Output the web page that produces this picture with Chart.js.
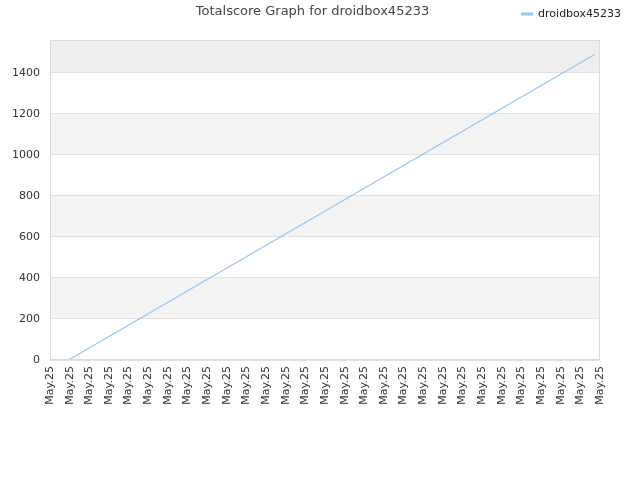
<!DOCTYPE html>
<html>
<head>
<meta charset="utf-8">
<title>Totalscore Graph for droidbox45233</title>
<script src="https://cdn.jsdelivr.net/npm/chart.js@4.4.1/dist/chart.umd.min.js"></script>
<style>
  html, body { margin: 0; padding: 0; background: #fff; }
  #score { display: block; }
</style>
</head>
<body>
<canvas id="score" width="640" height="480"></canvas>
<script>
// x positions are measured in tick steps from the first "May.25" label
const tickLabels = [
  'May.25', 'May.25', 'May.25', 'May.25', 'May.25', 'May.25', 'May.25', 'May.25',
  'May.25', 'May.25', 'May.25', 'May.25', 'May.25', 'May.25', 'May.25', 'May.25',
  'May.25', 'May.25', 'May.25', 'May.25', 'May.25', 'May.25', 'May.25', 'May.25',
  'May.25', 'May.25', 'May.25', 'May.25', 'May.25'
];
const yTicks = [0, 200, 400, 600, 800, 1000, 1200, 1400];
const pointX = [0.94, 27.75];
const totalScore = [0, 1491];

const lineColor = '#97c6f3';
const gridColor = '#e2e2e2';

Chart.defaults.font.family = "'DejaVu Sans', sans-serif";

// alternating horizontal bands + the frame round the plot
const plotBands = {
  id: 'plotBands',
  beforeDraw(chart) {
    const { ctx, chartArea: area, scales } = chart;
    const ticks = scales.y.ticks;
    ctx.save();
    for (let i = 0; i < ticks.length; i++) {
      const bottom = scales.y.getPixelForValue(ticks[i].value);
      const top = i + 1 < ticks.length ? scales.y.getPixelForValue(ticks[i + 1].value) : area.top;
      let fill = i % 2 === 0 ? '#ffffff' : '#f4f4f4';
      if (i === ticks.length - 1) fill = '#eeeeee';
      ctx.fillStyle = fill;
      ctx.fillRect(area.left, top, area.right - area.left, bottom - top);
    }
    ctx.restore();
  },
  afterDraw(chart) {
    const { ctx, chartArea: area } = chart;
    ctx.save();
    ctx.strokeStyle = '#d9d9d9';
    ctx.lineWidth = 1;
    ctx.strokeRect(area.left + 0.5, area.top + 0.5, area.right - area.left - 1, area.bottom - area.top - 1);
    ctx.restore();
  }
};

const ctx = document.getElementById('score');
const chart = new Chart(ctx, {
  type: 'line',
  data: {
    datasets: [{
      label: 'droidbox45233',
      data: pointX.map((x, i) => ({ x: x, y: totalScore[i] })),
      xAxisID: 'x',
      yAxisID: 'y',
      borderColor: lineColor,
      backgroundColor: lineColor,
      borderWidth: 1.2,
      pointRadius: 0,
      tension: 0,
      fill: false
    }]
  },
  options: {
    responsive: false,
    animation: false,
    layout: { padding: { top: 0, right: 15, bottom: 70, left: 0 } },
    plugins: {
      title: {
        display: true,
        text: 'Totalscore Graph for droidbox45233',
        color: '#444',
        font: { size: 13, weight: 'normal' },
        padding: { top: 4, bottom: -15.1 }
      },
      legend: {
        align: 'end',
        labels: {
          boxWidth: 11,
          boxHeight: 2,
          padding: 4,
          color: '#222',
          font: { size: 11 }
        }
      },
      tooltip: { enabled: false }
    },
    scales: {
      x: {
        type: 'linear',
        min: 0,
        max: tickLabels.length - 1,
        afterBuildTicks: scale => {
          scale.ticks = tickLabels.map((t, i) => ({ value: i }));
        },
        ticks: {
          autoSkip: false,
          maxRotation: 90,
          minRotation: 90,
          padding: 6,
          color: '#333',
          font: { size: 11 },
          callback: (value, index) => tickLabels[index]
        },
        grid: { display: false, drawTicks: false },
        border: { display: false },
        afterFit: scale => { scale.height = 50; }
      },
      y: {
        min: 0,
        max: 1560,
        afterBuildTicks: scale => {
          scale.ticks = yTicks.map(v => ({ value: v }));
        },
        ticks: {
          padding: 10,
          color: '#333',
          font: { size: 11 },
          callback: value => String(value)
        },
        grid: { color: gridColor, drawTicks: false },
        border: { display: false },
        afterFit: scale => { scale.width = 50; }
      },
      // empty spacers, they only hold the plot away from legend and right edge
      topGap: {
        type: 'linear',
        position: 'top',
        grid: { display: false, drawTicks: false },
        ticks: { display: false },
        border: { display: false },
        afterFit: scale => { scale.height = 10.5; }
      },
      rightGap: {
        type: 'linear',
        position: 'right',
        grid: { display: false, drawTicks: false },
        ticks: { display: false },
        border: { display: false },
        afterFit: scale => { scale.width = 25; }
      }
    }
  },
  plugins: [plotBands]
});
</script>
</body>
</html>
